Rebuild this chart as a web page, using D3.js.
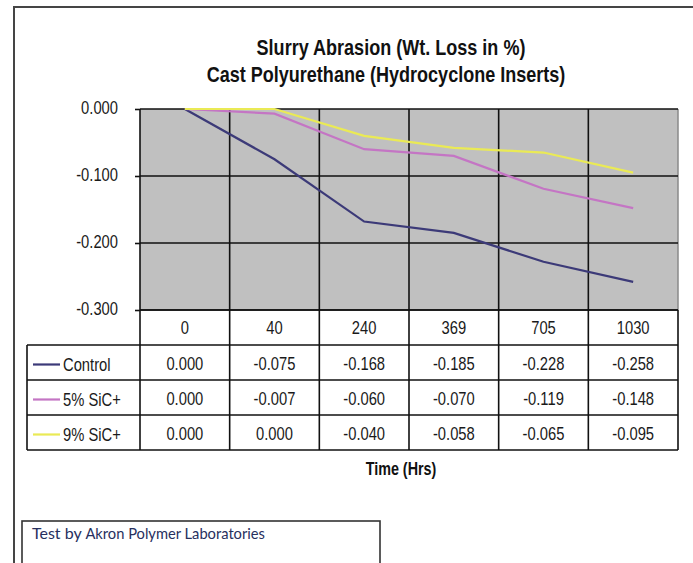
<!DOCTYPE html>
<html>
<head>
<meta charset="utf-8">
<script src="https://cdn.jsdelivr.net/npm/d3@7"></script>
<style>
  body { margin: 0; background: #fff; }
  svg { display: block; }
  .narrow { font-family: "Liberation Sans", Arial, sans-serif; }
</style>
</head>
<body>
<div id="main"></div>
<script>
// chart data
var hours = ['0', '40', '240', '369', '705', '1030'];
var seriesNames = ['Control', '5% SiC+', '9% SiC+'];
var control = [0.000, -0.075, -0.168, -0.185, -0.228, -0.258];
var sic5 = [0.000, -0.007, -0.060, -0.070, -0.119, -0.148];
var sic9 = [0.000, 0.000, -0.040, -0.058, -0.065, -0.095];
var yTicks = [0, -0.1, -0.2, -0.3];

var seriesColors = ['#3c3a78', '#c475c4', '#eaea55'];
var seriesValues = [control, sic5, sic9];

// layout
var svgWidth = 693;
var svgHeight = 563;
var plot = { l: 140, r: 678, t: 109, b: 310 };
var rowHeight = 35;
var legendLeft = 27;
var squeeze = 0.82; // no narrow font installed, so squeeze Liberation Sans sideways

var fmt = d3.formatLocale({ decimal: '.', thousands: ',', grouping: [3], currency: ['', ''], minus: '-' }).format('.3f');

// place a text at (x, y) and squeeze it horizontally around its anchor
function narrowAt(sel, x, y) {
  sel.attr('class', 'narrow')
    .attr('x', 0)
    .attr('y', 0)
    .attr('transform', function (d, i) {
      var px = typeof x === 'function' ? x(d, i) : x;
      var py = typeof y === 'function' ? y(d, i) : y;
      return 'translate(' + [px, py] + ') scale(' + squeeze + ',1)';
    });
  return sel;
}

var svg = d3.select('#main')
  .append('svg')
  .attr('width', svgWidth)
  .attr('height', svgHeight);

// outer frame (runs off the picture on the right and bottom)
svg.append('rect')
  .attr('x', 14)
  .attr('y', 7)
  .attr('width', 720)
  .attr('height', 600)
  .attr('fill', 'none')
  .attr('stroke', '#454545')
  .attr('stroke-width', 2);

// title
svg.append('text')
  .call(narrowAt, 391, 55)
  .attr('text-anchor', 'middle')
  .style('font-size', '22px')
  .style('font-weight', 'bold')
  .attr('fill', '#111')
  .text('Slurry Abrasion (Wt. Loss in %)');

svg.append('text')
  .call(narrowAt, 386, 82)
  .attr('text-anchor', 'middle')
  .style('font-size', '22px')
  .style('font-weight', 'bold')
  .attr('fill', '#111')
  .text('Cast Polyurethane (Hydrocyclone Inserts)');

// scales
var xScale = d3.scaleBand()
  .domain(hours)
  .range([plot.l, plot.r]);

var yScale = d3.scaleLinear()
  .domain([-0.3, 0])
  .range([plot.b, plot.t]);

var xMid = (d) => xScale(d) + xScale.bandwidth() / 2;

// plot area
svg.append('rect')
  .attr('x', plot.l)
  .attr('y', plot.t)
  .attr('width', plot.r - plot.l)
  .attr('height', plot.b - plot.t)
  .attr('fill', '#c0c0c0');

// right edge of plot area is a lighter line
svg.append('line')
  .attr('x1', plot.r).attr('x2', plot.r)
  .attr('y1', plot.t).attr('y2', plot.b)
  .attr('stroke', '#8a8a8a')
  .attr('stroke-width', 1.5);

// horizontal gridlines
svg.append('g')
  .selectAll('line')
  .data(yTicks)
  .enter()
  .append('line')
  .attr('x1', plot.l)
  .attr('x2', plot.r)
  .attr('y1', (d) => yScale(d))
  .attr('y2', (d) => yScale(d))
  .attr('stroke', '#111')
  .attr('stroke-width', 1.6);

// vertical lines between categories, continued down through the data table
var tableBottom = plot.b + rowHeight * 4;
svg.append('g')
  .selectAll('line')
  .data(hours.slice(1))
  .enter()
  .append('line')
  .attr('x1', (d) => xScale(d))
  .attr('x2', (d) => xScale(d))
  .attr('y1', plot.t)
  .attr('y2', tableBottom)
  .attr('stroke', '#111')
  .attr('stroke-width', 1.6);

// y axis
var yAxis = d3.axisLeft(yScale)
  .tickValues(yTicks)
  .tickFormat(fmt)
  .tickSizeInner(5)
  .tickSizeOuter(0)
  .tickPadding(17);

var yAxisG = svg.append('g')
  .attr('transform', 'translate(' + plot.l + ',0)')
  .call(yAxis);

yAxisG.select('.domain')
  .attr('stroke', '#111')
  .attr('stroke-width', 1.6)
  .attr('d', 'M0,' + plot.t + 'V' + tableBottom);
yAxisG.selectAll('.tick line').attr('stroke', '#111').attr('stroke-width', 1.6);
yAxisG.selectAll('.tick text')
  .call(narrowAt, -22, 4)
  .attr('dy', null)
  .style('font-size', '18px')
  .attr('fill', '#1a1a1a');

// series lines
var line = d3.line()
  .x((d, i) => xMid(hours[i]))
  .y((d) => yScale(d));

svg.append('g')
  .selectAll('path')
  .data(seriesValues)
  .enter()
  .append('path')
  .attr('d', (d) => line(d))
  .attr('fill', 'none')
  .attr('stroke', (d, i) => seriesColors[i])
  .attr('stroke-width', 2.2);

// data table
var tableG = svg.append('g');

// row separators
var rowLines = [plot.b, plot.b + rowHeight, plot.b + rowHeight * 2, plot.b + rowHeight * 3, tableBottom];
tableG.selectAll('.row-line')
  .data(rowLines)
  .enter()
  .append('line')
  .attr('class', 'row-line')
  .attr('x1', (d, i) => i === 0 ? plot.l : legendLeft)
  .attr('x2', plot.r)
  .attr('y1', (d) => d)
  .attr('y2', (d) => d)
  .attr('stroke', '#111')
  .attr('stroke-width', 1.6);

tableG.append('line')
  .attr('x1', legendLeft).attr('x2', legendLeft)
  .attr('y1', plot.b + rowHeight).attr('y2', tableBottom)
  .attr('stroke', '#111')
  .attr('stroke-width', 1.6);

tableG.append('line')
  .attr('x1', plot.r).attr('x2', plot.r)
  .attr('y1', plot.b).attr('y2', tableBottom)
  .attr('stroke', '#111')
  .attr('stroke-width', 1.6);

// header row: category labels
tableG.selectAll('.cat-label')
  .data(hours)
  .enter()
  .append('text')
  .call(narrowAt, (d) => xMid(d), plot.b + rowHeight / 2 + 6)
  .attr('text-anchor', 'middle')
  .style('font-size', '18px')
  .attr('fill', '#1a1a1a')
  .text((d) => d);

// value rows
seriesValues.forEach(function (values, s) {
  var rowTop = plot.b + rowHeight * (s + 1);

  tableG.append('line')
    .attr('x1', 33).attr('x2', 60)
    .attr('y1', rowTop + rowHeight / 2 + 2)
    .attr('y2', rowTop + rowHeight / 2 + 2)
    .attr('stroke', seriesColors[s])
    .attr('stroke-width', 2.2);

  tableG.append('text')
    .call(narrowAt, 63, rowTop + rowHeight / 2 + 8)
    .style('font-size', '18px')
    .attr('fill', '#1a1a1a')
    .text(seriesNames[s]);

  tableG.selectAll('.val-' + s)
    .data(values)
    .enter()
    .append('text')
    .call(narrowAt, (d, i) => xMid(hours[i]), rowTop + rowHeight / 2 + 7)
    .attr('text-anchor', 'middle')
    .style('font-size', '18px')
    .attr('fill', '#1a1a1a')
    .text((d) => fmt(d));
});

// axis title
svg.append('text')
  .call(narrowAt, 401, 475)
  .attr('text-anchor', 'middle')
  .style('font-size', '17.5px')
  .style('font-weight', 'bold')
  .attr('fill', '#111')
  .text('Time (Hrs)');

// credit box
svg.append('rect')
  .attr('x', 22)
  .attr('y', 521)
  .attr('width', 358)
  .attr('height', 60)
  .attr('fill', '#fff')
  .attr('stroke', '#333')
  .attr('stroke-width', 1.6);

var credit = svg.append('text')
  .attr('x', 32)
  .attr('y', 539)
  .style('font-family', 'Lato, "Open Sans", sans-serif')
  .attr('fill', '#27305e');
credit.append('tspan').style('font-size', '16px').text('Test by ');
credit.append('tspan').style('font-size', '14.7px').text('Akron Polymer Laboratories');
</script>
</body>
</html>
